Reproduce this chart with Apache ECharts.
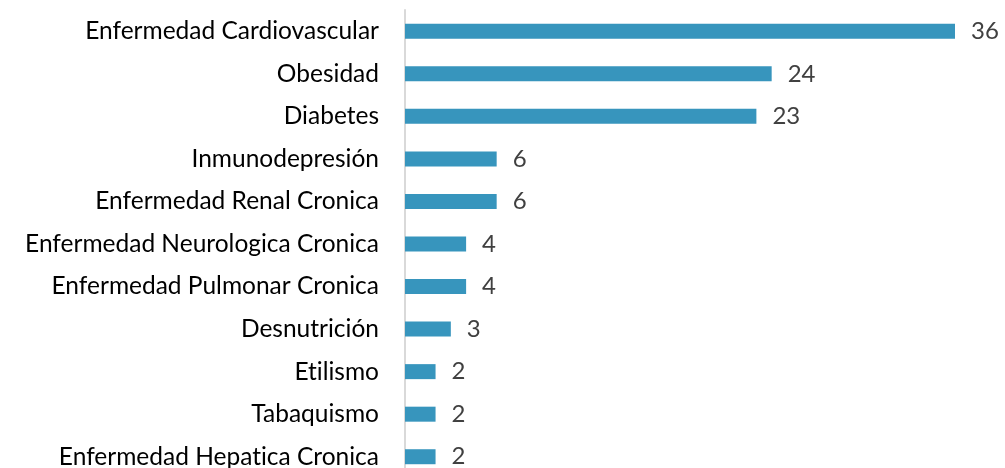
<!DOCTYPE html>
<html lang="es">
<head>
    <meta charset="UTF-8">
    <title>Comorbilidades</title>
    <style>
        html, body { margin: 0; padding: 0; background: #fff; }
        #main { width: 1005px; height: 468px; }
    </style>
    <script src="https://cdn.jsdelivr.net/npm/echarts@6/dist/echarts.min.js"></script>
</head>
<body>
<div id="main"></div>
<script>
    // datos (de arriba hacia abajo)
    const categorias = ['Enfermedad Cardiovascular', 'Obesidad', 'Diabetes', 'Inmunodepresión',
        'Enfermedad Renal Cronica', 'Enfermedad Neurologica Cronica', 'Enfermedad Pulmonar Cronica',
        'Desnutrición', 'Etilismo', 'Tabaquismo', 'Enfermedad Hepatica Cronica']
    const casos = [36, 24, 23, 6, 6, 4, 4, 3, 2, 2, 2]

    document.addEventListener('DOMContentLoaded', () => {
        let myChart = echarts.init(document.getElementById('main'))
        let option = {
            animation: false,
            grid: {left: 405, top: 10, width: 550, height: 468, outerBoundsMode: 'none'},
            xAxis: {
                type: 'value', min: 0, max: 36, show: false
            },
            yAxis: {
                type: 'category',
                inverse: true,
                data: categorias,
                axisLine: {lineStyle: {color: '#d9d9d9', width: 2}},
                axisTick: {show: false},
                axisLabel: {
                    color: '#000', fontSize: 24.5, fontFamily: 'Lato', margin: 26,
                    // evitar la ligadura "ti" de Lato
                    formatter: v => v.replace(/ti/g, 't\u200Ci')
                }
            },
            series: [{
                type: 'bar',
                data: casos,
                barWidth: 15,
                itemStyle: {color: '#3795bd'},
                label: {
                    show: true, position: 'right', distance: 16,
                    color: '#404040', fontSize: 24, fontFamily: 'Lato'
                }
            }]
        }
        myChart.setOption(option)
    })
</script>
</body>
</html>
